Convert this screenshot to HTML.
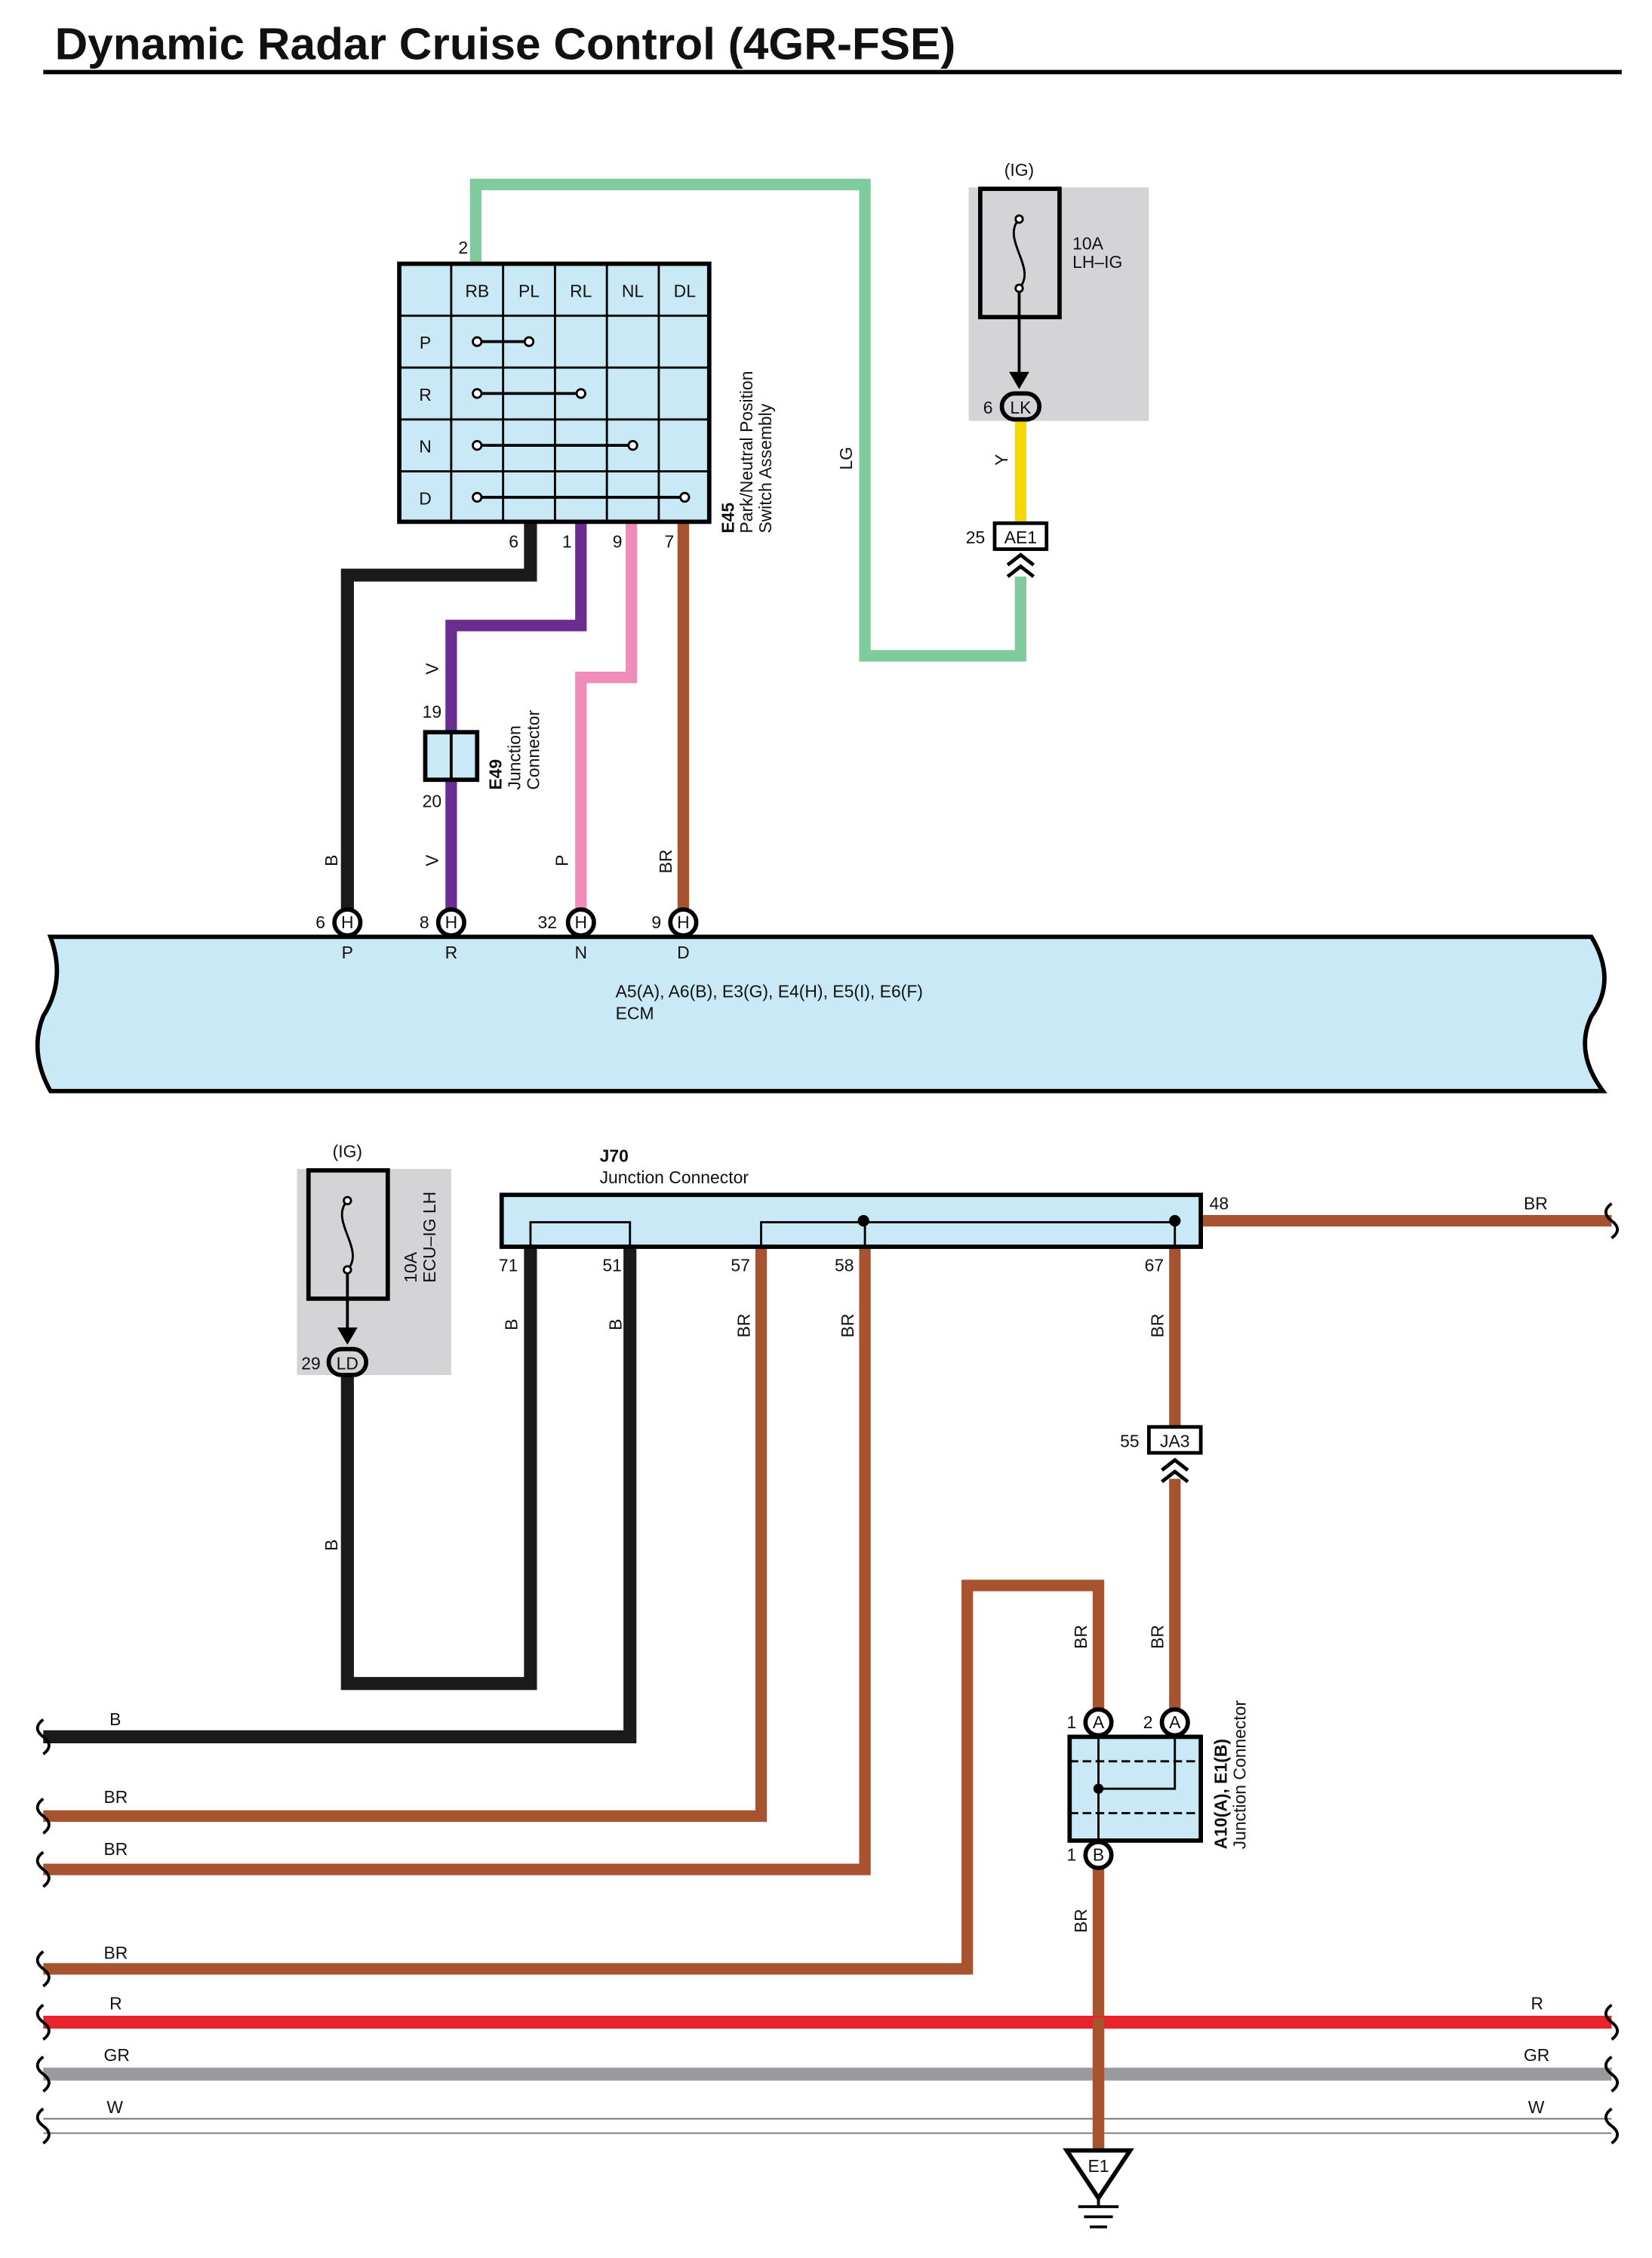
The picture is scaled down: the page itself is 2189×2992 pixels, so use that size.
<!DOCTYPE html>
<html><head><meta charset="utf-8"><style>
html,body{margin:0;padding:0;background:#fff}
svg{display:block}
text{font-family:"Liberation Sans",Arial,sans-serif;font-size:12px;fill:#111}
</style></head><body>
<svg width="2189" height="2992" viewBox="0 0 1146 1566.6" preserveAspectRatio="none" xmlns="http://www.w3.org/2000/svg">
<rect x="0" y="0" width="1146" height="1570" fill="#fff"/>
<text x="38" y="41" textLength="625" lengthAdjust="spacingAndGlyphs" style="font-size:31px;font-weight:bold">Dynamic Radar Cruise Control (4GR-FSE)</text>
<line x1="30" y1="50" x2="1125" y2="50" stroke="#000" stroke-width="3"/>

<g fill="none" stroke-linejoin="miter">
<polyline points="330,183 330,128 600,128 600,455 708,455 708,400" stroke="#7fcb9c" stroke-width="8"/>
<line x1="708" y1="290" x2="708" y2="363" stroke="#f5d800" stroke-width="8"/>
<polyline points="368,362 368,399 241,399 241,632" stroke="#1a1a1a" stroke-width="9"/>
<polyline points="403,362 403,434 313,434 313,508" stroke="#6b2d8f" stroke-width="8"/>
<line x1="313" y1="541" x2="313" y2="632" stroke="#6b2d8f" stroke-width="8"/>
<polyline points="438,362 438,470 403,470 403,632" stroke="#ef8cb8" stroke-width="8"/>
<line x1="474" y1="362" x2="474" y2="632" stroke="#a8532f" stroke-width="8"/>

<polyline points="241,955 241,1168 368,1168 368,865" stroke="#1a1a1a" stroke-width="9"/>
<polyline points="437,865 437,1205 30,1205" stroke="#1a1a1a" stroke-width="9"/>
<polyline points="528,865 528,1260 30,1260" stroke="#a8532f" stroke-width="8"/>
<polyline points="600,865 600,1297 30,1297" stroke="#a8532f" stroke-width="8"/>
<line x1="833" y1="847" x2="1118" y2="847" stroke="#a8532f" stroke-width="8"/>
<line x1="815" y1="865" x2="815" y2="990" stroke="#a8532f" stroke-width="8"/>
<line x1="815" y1="1026" x2="815" y2="1187" stroke="#a8532f" stroke-width="8"/>
<polyline points="762,1187 762,1100 671,1100 671,1366 30,1366" stroke="#a8532f" stroke-width="8"/>
<line x1="762" y1="1296" x2="762" y2="1492" stroke="#a8532f" stroke-width="8"/>
<line x1="30" y1="1403" x2="1118" y2="1403" stroke="#e8232b" stroke-width="9"/>
<line x1="30" y1="1439" x2="1118" y2="1439" stroke="#9a9a9e" stroke-width="9"/>
<line x1="30" y1="1470" x2="1118" y2="1470" stroke="#777" stroke-width="1"/>
<line x1="30" y1="1480" x2="1118" y2="1480" stroke="#777" stroke-width="1"/>
<line x1="762" y1="1400" x2="762" y2="1492" stroke="#a8532f" stroke-width="8"/>
</g>

<g fill="none" stroke="#000" stroke-width="2">
<path d="M30,1193 q-8,6 0,12 q8,6 0,12"/>
<path d="M30,1248 q-8,6 0,12 q8,6 0,12"/>
<path d="M30,1285 q-8,6 0,12 q8,6 0,12"/>
<path d="M30,1354 q-8,6 0,12 q8,6 0,12"/>
<path d="M30,1391 q-8,6 0,12 q8,6 0,12"/>
<path d="M30,1427 q-8,6 0,12 q8,6 0,12"/>
<path d="M30,1463 q-8,6 0,12 q8,6 0,12"/>
<path d="M1118,835 q-8,6 0,12 q8,6 0,12"/>
<path d="M1118,1391 q-8,6 0,12 q8,6 0,12"/>
<path d="M1118,1427 q-8,6 0,12 q8,6 0,12"/>
<path d="M1118,1463 q-8,6 0,12 q8,6 0,12"/>
</g>

<rect x="277" y="183" width="215" height="179" fill="#c9e9f7" stroke="#000" stroke-width="3"/>
<g stroke="#000" stroke-width="1.5">
<line x1="313" y1="183" x2="313" y2="362"/><line x1="349" y1="183" x2="349" y2="362"/>
<line x1="385" y1="183" x2="385" y2="362"/><line x1="421" y1="183" x2="421" y2="362"/>
<line x1="457" y1="183" x2="457" y2="362"/>
<line x1="277" y1="219" x2="492" y2="219"/><line x1="277" y1="255" x2="492" y2="255"/>
<line x1="277" y1="291" x2="492" y2="291"/><line x1="277" y1="327" x2="492" y2="327"/>
<line x1="331" y1="237" x2="367" y2="237" stroke-width="2"/>
<line x1="331" y1="273" x2="403" y2="273" stroke-width="2"/>
<line x1="331" y1="309" x2="439" y2="309" stroke-width="2"/>
<line x1="331" y1="345" x2="475" y2="345" stroke-width="2"/>
</g>
<g fill="#fff" stroke="#000" stroke-width="1.5">
<circle cx="331" cy="237" r="3"/><circle cx="367" cy="237" r="3"/>
<circle cx="331" cy="273" r="3"/><circle cx="403" cy="273" r="3"/>
<circle cx="331" cy="309" r="3"/><circle cx="439" cy="309" r="3"/>
<circle cx="331" cy="345" r="3"/><circle cx="475" cy="345" r="3"/>
</g>
<g text-anchor="middle">
<text x="331" y="206">RB</text><text x="367" y="206">PL</text><text x="403" y="206">RL</text><text x="439" y="206">NL</text><text x="475" y="206">DL</text>
<text x="295" y="242">P</text><text x="295" y="278">R</text><text x="295" y="314">N</text><text x="295" y="350">D</text>
</g>
<text x="318" y="176">2</text>
<text x="353" y="380">6</text><text x="390" y="380">1</text><text x="425" y="380">9</text><text x="461" y="380">7</text>
<text transform="translate(509,370) rotate(-90)" style="font-weight:bold">E45</text>
<text transform="translate(522,370) rotate(-90)">Park/Neutral Position</text>
<text transform="translate(535,370) rotate(-90)">Switch Assembly</text>

<rect x="295" y="508" width="36" height="33" fill="#c9e9f7" stroke="#000" stroke-width="3"/>
<line x1="313" y1="508" x2="313" y2="541" stroke="#000" stroke-width="2"/>
<text x="293" y="498">19</text><text x="293" y="560">20</text>
<text transform="translate(348,548) rotate(-90)" style="font-weight:bold">E49</text>
<text transform="translate(361,548) rotate(-90)">Junction</text>
<text transform="translate(374,548) rotate(-90)">Connector</text>

<g>
<text transform="translate(304,468) rotate(-90)">V</text>
<text transform="translate(234,601) rotate(-90)">B</text>
<text transform="translate(304,601) rotate(-90)">V</text>
<text transform="translate(394,601) rotate(-90)">P</text>
<text transform="translate(466,606) rotate(-90)">BR</text>
<text transform="translate(591,326) rotate(-90)">LG</text>
<text transform="translate(699,323) rotate(-90)">Y</text>
<text transform="translate(359,923) rotate(-90)">B</text>
<text transform="translate(431,923) rotate(-90)">B</text>
<text transform="translate(520,928) rotate(-90)">BR</text>
<text transform="translate(592,928) rotate(-90)">BR</text>
<text transform="translate(807,928) rotate(-90)">BR</text>
<text transform="translate(234,1076) rotate(-90)">B</text>
<text transform="translate(754,1144) rotate(-90)">BR</text>
<text transform="translate(807,1144) rotate(-90)">BR</text>
<text transform="translate(754,1341) rotate(-90)">BR</text>
</g>

<rect x="672" y="130" width="125" height="162" fill="#d4d4d6"/>
<text x="707" y="122" text-anchor="middle">(IG)</text>
<rect x="680" y="131" width="55" height="89" fill="#d4d4d6" stroke="#000" stroke-width="3"/>
<path d="M707,152 C694,166 720,186 707,200" fill="none" stroke="#000" stroke-width="1.5"/>
<circle cx="707" cy="152" r="2.5" fill="#fff" stroke="#000" stroke-width="1.5"/>
<circle cx="707" cy="200" r="2.5" fill="#fff" stroke="#000" stroke-width="1.5"/>
<line x1="707" y1="202" x2="707" y2="262" stroke="#000" stroke-width="2"/>
<path d="M700,258 L707,270 L714,258 Z" fill="#000"/>
<text x="744" y="173">10A</text><text x="744" y="186">LH–IG</text>
<rect x="695" y="273" width="26" height="18" rx="9" fill="#d4d4d6" stroke="#000" stroke-width="3"/>
<text x="708" y="287" text-anchor="middle">LK</text>
<text x="682" y="287">6</text>
<rect x="690" y="363" width="36" height="18" fill="#fff" stroke="#000" stroke-width="2.5"/>
<text x="708" y="377" text-anchor="middle">AE1</text>
<text x="670" y="377">25</text>
<path d="M699,392 L708,385 L717,392 M699,400 L708,393 L717,400" fill="none" stroke="#000" stroke-width="2.5"/>

<path d="M35,650 L1104,650 Q1122,680 1104,705 Q1092,730 1112,757 L35,757 Q20,730 30,705 Q46,680 35,650 Z" fill="#c9e9f7" stroke="#000" stroke-width="3"/>
<g fill="#fff" stroke="#000" stroke-width="3">
<circle cx="241" cy="640" r="9"/><circle cx="313" cy="640" r="9"/><circle cx="403" cy="640" r="9"/><circle cx="474" cy="640" r="9"/>
</g>
<g text-anchor="middle">
<text x="241" y="644">H</text><text x="313" y="644">H</text><text x="403" y="644">H</text><text x="474" y="644">H</text>
<text x="241" y="665">P</text><text x="313" y="665">R</text><text x="403" y="665">N</text><text x="474" y="665">D</text>
</g>
<text x="219" y="644">6</text><text x="291" y="644">8</text><text x="373" y="644">32</text><text x="452" y="644">9</text>
<text x="427" y="692">A5(A), A6(B), E3(G), E4(H), E5(I), E6(F)</text>
<text x="427" y="707">ECM</text>

<rect x="206" y="811" width="107" height="143" fill="#d4d4d6"/>
<text x="241" y="803" text-anchor="middle">(IG)</text>
<rect x="214" y="812" width="55" height="89" fill="#d4d4d6" stroke="#000" stroke-width="3"/>
<path d="M241,833 C228,847 254,867 241,881" fill="none" stroke="#000" stroke-width="1.5"/>
<circle cx="241" cy="833" r="2.5" fill="#fff" stroke="#000" stroke-width="1.5"/>
<circle cx="241" cy="881" r="2.5" fill="#fff" stroke="#000" stroke-width="1.5"/>
<line x1="241" y1="883" x2="241" y2="925" stroke="#000" stroke-width="2"/>
<path d="M234,921 L241,933 L248,921 Z" fill="#000"/>
<text transform="translate(289,890) rotate(-90)">10A</text>
<text transform="translate(302,890) rotate(-90)">ECU–IG LH</text>
<rect x="228" y="936" width="26" height="18" rx="9" fill="#d4d4d6" stroke="#000" stroke-width="3"/>
<text x="241" y="950" text-anchor="middle">LD</text>
<text x="209" y="950">29</text>

<text x="416" y="806" style="font-weight:bold">J70</text>
<text x="416" y="821">Junction Connector</text>
<rect x="348" y="829" width="485" height="36" fill="#c9e9f7" stroke="#000" stroke-width="3"/>
<polyline points="368,865 368,848 437,848 437,865" fill="none" stroke="#000" stroke-width="1.5"/>
<polyline points="528,865 528,848 815,848 815,865" fill="none" stroke="#000" stroke-width="1.5"/>
<line x1="600" y1="848" x2="600" y2="865" stroke="#000" stroke-width="1.5"/>
<circle cx="599" cy="847" r="4" fill="#000"/><circle cx="815" cy="847" r="4" fill="#000"/>
<text x="346" y="882">71</text><text x="418" y="882">51</text><text x="507" y="882">57</text><text x="579" y="882">58</text><text x="794" y="882">67</text><text x="839" y="839">48</text>
<text x="1057" y="839">BR</text>

<rect x="797" y="990" width="36" height="18" fill="#fff" stroke="#000" stroke-width="2.5"/>
<text x="815" y="1004" text-anchor="middle">JA3</text>
<text x="777" y="1004">55</text>
<path d="M806,1020 L815,1013 L824,1020 M806,1028 L815,1021 L824,1028" fill="none" stroke="#000" stroke-width="2.5"/>

<rect x="742" y="1205" width="91" height="72" fill="#c9e9f7" stroke="#000" stroke-width="3"/>
<line x1="742" y1="1222" x2="833" y2="1222" stroke="#000" stroke-width="1.5" stroke-dasharray="6,3"/>
<line x1="742" y1="1258" x2="833" y2="1258" stroke="#000" stroke-width="1.5" stroke-dasharray="6,3"/>
<polyline points="762,1205 762,1277" fill="none" stroke="#000" stroke-width="1.5"/>
<polyline points="762,1241 815,1241 815,1205" fill="none" stroke="#000" stroke-width="1.5"/>
<circle cx="762" cy="1241" r="3.5" fill="#000"/>
<g fill="#fff" stroke="#000" stroke-width="3">
<circle cx="762" cy="1195" r="9"/><circle cx="815" cy="1195" r="9"/><circle cx="762" cy="1287" r="9"/>
</g>
<text x="762" y="1199" text-anchor="middle">A</text><text x="815" y="1199" text-anchor="middle">A</text><text x="762" y="1291" text-anchor="middle">B</text>
<text x="740" y="1199">1</text><text x="793" y="1199">2</text><text x="740" y="1291">1</text>
<text transform="translate(851,1283) rotate(-90)" style="font-weight:bold">A10(A), E1(B)</text>
<text transform="translate(864,1283) rotate(-90)">Junction Connector</text>

<path d="M740,1492 L784,1492 L762,1525 Z" fill="#fff" stroke="#000" stroke-width="3"/>
<text x="762" y="1507" text-anchor="middle">E1</text>
<line x1="762" y1="1525" x2="762" y2="1531" stroke="#000" stroke-width="2"/>
<line x1="748" y1="1531" x2="776" y2="1531" stroke="#000" stroke-width="2"/>
<line x1="752" y1="1538" x2="772" y2="1538" stroke="#000" stroke-width="2"/>
<line x1="756" y1="1545" x2="768" y2="1545" stroke="#000" stroke-width="2"/>

<text x="76" y="1197">B</text>
<text x="72" y="1251">BR</text>
<text x="72" y="1287">BR</text>
<text x="72" y="1359">BR</text>
<text x="76" y="1394">R</text><text x="1062" y="1394">R</text>
<text x="72" y="1430">GR</text><text x="1057" y="1430">GR</text>
<text x="74" y="1466">W</text><text x="1060" y="1466">W</text>
</svg>
</body></html>
